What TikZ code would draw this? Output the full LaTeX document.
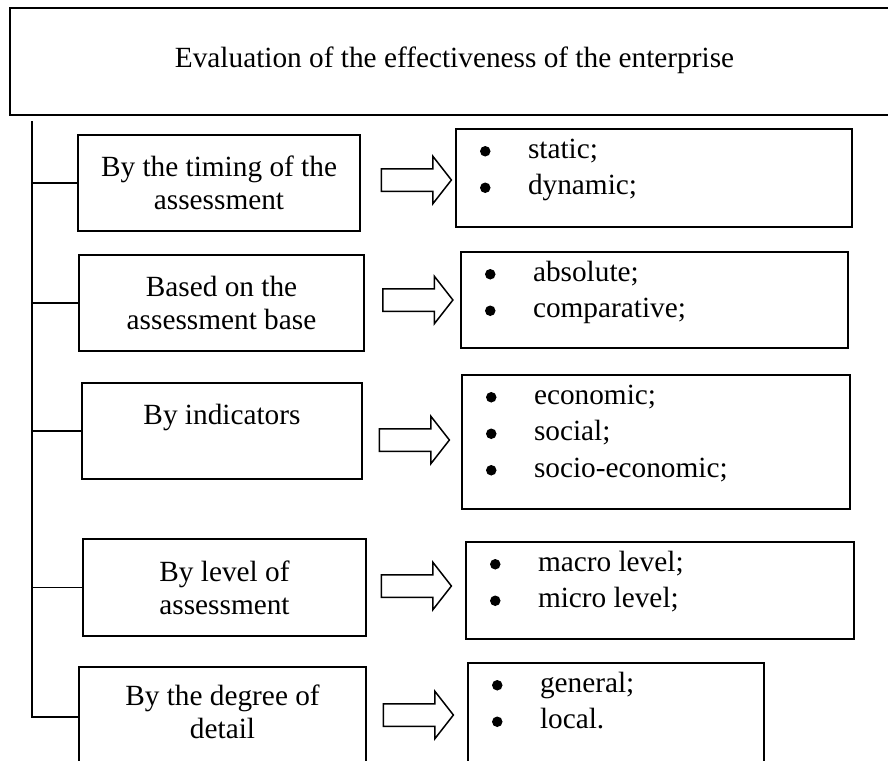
\documentclass[tikz,border=0pt]{standalone}
\usepackage{fontspec}
\setmainfont{Liberation Serif}
\usepackage{tikz}
\usetikzlibrary{shapes.arrows}
\usetikzlibrary{fit}
\usetikzlibrary{calc}

\tikzset{
  box/.style={draw, inner sep=0pt, align=center},
  blockarrow/.style={single arrow, draw, inner xsep=0pt, inner ysep=10.5pt,
    single arrow head extend=12.5pt, single arrow tip angle=104, minimum height=70pt},
  item/.style={inner sep=0pt, anchor=base west},
  dot/.style={circle, fill, inner sep=0pt, minimum size=10.5pt},
}

\begin{document}
\begin{tikzpicture}[x=1pt, y=-1pt, line width=1.5pt, font={\fontsize{29.3}{33}\selectfont}]
\useasboundingbox (0,0) rectangle (888,760);
% header box runs off the right edge
\node[box, fit={(10,8) (899,115)}] (top) {};
\node (title) at ([yshift=1pt]top.center) {Evaluation of the effectiveness of the enterprise};

% criteria (text depth moves the text up or down in its box)
\node[box, minimum width=282pt, minimum height=96pt, text depth=-14pt] (b1) at (219,183) {By the timing of the\\assessment};
\node[box, minimum width=285pt, minimum height=96pt, text depth=-12pt] (b2) at (221.5,303) {Based on the\\assessment base};
\node[box, minimum width=280pt, minimum height=96pt, text depth=-10pt] (b3) at (222,431) {By indicators\\\phantom{x}};
\node[box, minimum width=283pt, minimum height=97pt, text depth=-10pt] (b4) at (224.5,587.5) {By level of\\assessment};
\node[box, minimum width=287pt, minimum height=100pt, text depth=11pt] (b5) at (222.5,717) {By the degree of\\detail};

% kinds
\node[box, fit={(456,129) (852,227)}] (r1) {};
\node[box, fit={(461,252) (848,348)}] (r2) {};
\node[box, fit={(462,375) (850,509)}] (r3) {};
\node[box, fit={(466,542) (854,639)}] (r4) {};
\node[box, fit={(468,663) (764,775)}] (r5) {};

\node[blockarrow] (a1) at (412,180) {};
\node[blockarrow] (a2) at (413.5,300) {};
\node[blockarrow] (a3) at (410,440) {};
\node[blockarrow] (a4) at (412,586) {};
\node[blockarrow] (a5) at (414,715) {};

% trunk with its branches
\coordinate (trunk) at (32,121);
\draw (trunk) |- (b5.west);
\foreach \i in {1,...,4}
  \draw (b\i.west) -- (b\i.west -| trunk);

% bullet lists
\foreach \r/\lst in {r1/{static;,dynamic;}, r2/{absolute;,comparative;},
    r3/{economic;,social;,socio-economic;}, r4/{macro level;,micro level;}, r5/{general;,local.}}
  \foreach \itm [count=\j] in \lst {
    \node[item] (\r-\j) at ($(\r.north west)+(72,{30+36.5*(\j-1)})$) {\itm};
    \node[dot] (\r-d\j) at ($(\r-\j.base west)+(-42,-7)$) {};
  }
\end{tikzpicture}
\end{document}
